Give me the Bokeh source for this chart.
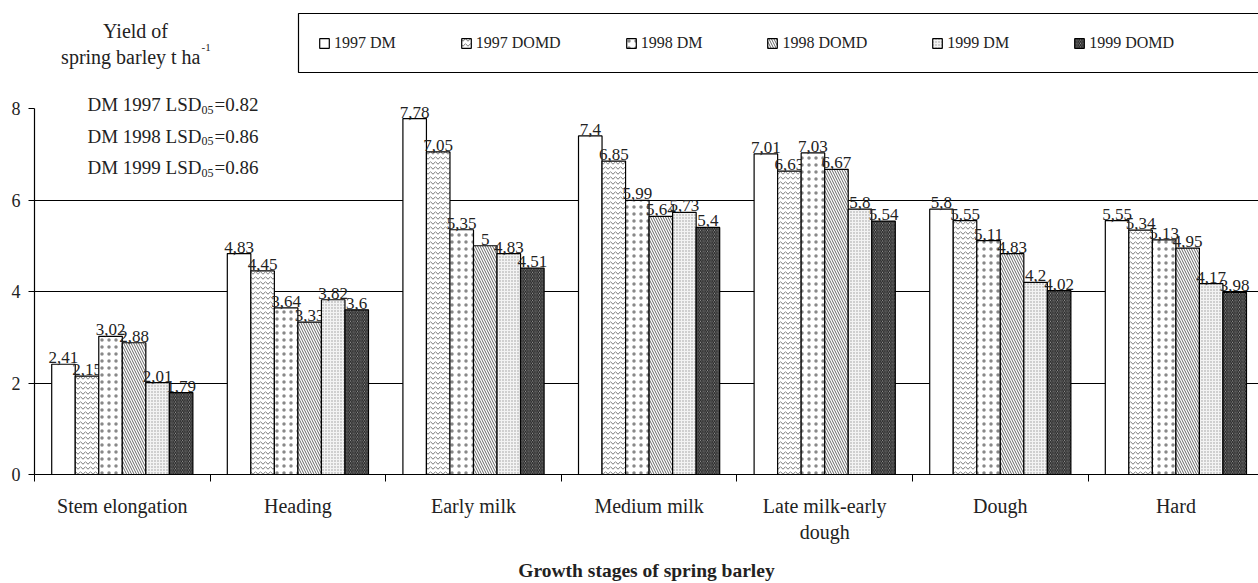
import numpy as np
from bokeh.plotting import figure
from bokeh.models import (ColumnDataSource, Range1d, FixedTicker, Legend, LegendItem, Label, BoxAnnotation)
from bokeh.embed import file_html
from bokeh.resources import INLINE

categories = ["Stem elongation", "Heading", "Early milk", "Medium milk",
              "Late milk-early\ndough", "Dough", "Hard"]
series_names = ["1997 DM", "1997 DOMD", "1998 DM", "1998 DOMD", "1999 DM", "1999 DOMD"]
dm_1997 = [2.41, 4.83, 7.78, 7.40, 7.01, 5.80, 5.55]
domd_1997 = [2.15, 4.45, 7.05, 6.85, 6.63, 5.55, 5.34]
dm_1998 = [3.02, 3.64, 5.35, 5.99, 7.03, 5.11, 5.13]
domd_1998 = [2.88, 3.33, 5.00, 5.64, 6.67, 4.83, 4.95]
dm_1999 = [2.01, 3.82, 4.83, 5.73, 5.80, 4.20, 4.17]
domd_1999 = [1.79, 3.60, 4.51, 5.40, 5.54, 4.02, 3.98]
y_ticks = [0, 2, 4, 6, 8]
lsd_lines = [("DM 1997 LSD", "05", "=0.82"), ("DM 1998 LSD", "05", "=0.86"), ("DM 1999 LSD", "05", "=0.86")]

series = [dm_1997, domd_1997, dm_1998, domd_1998, dm_1999, domd_1999]
styles = [
    dict(fill_color="white"),
    dict(fill_color="white", hatch_pattern="horizontal_wave", hatch_scale=5, hatch_weight=0.8, hatch_color="#555555"),
    dict(fill_color="white", hatch_pattern="dot", hatch_scale=7, hatch_weight=1, hatch_color="#888888"),
    dict(fill_color="white", hatch_pattern="left_diagonal_line", hatch_scale=5, hatch_weight=1, hatch_color="#666666"),
    dict(fill_color="#f3f3f3", hatch_pattern="dot", hatch_scale=3, hatch_weight=0.8, hatch_color="#999999"),
    dict(fill_color="#b0b0b0", hatch_pattern="left_diagonal_line", hatch_scale=3.5, hatch_weight=1.2, hatch_color="#222222"),
]

FONT = "serif"
TXT = "#222222"
W, H = 1258, 583
px_per_unit_y = 45.75
frame_h = 474
y_top = frame_h / px_per_unit_y
x_end = (W - 34) / 175.6

p = figure(width=W, height=H, output_backend="svg", toolbar_location=None,
           x_range=Range1d(0, x_end), y_range=Range1d(0, y_top),
           min_border_left=34, min_border_right=0, min_border_top=0, min_border_bottom=109)
p.outline_line_color = None
p.background_fill_color = "white"

bw = 0.134
n = len(series)
centers = np.arange(len(categories)) + 0.5
renderers = []
for i, (vals, st) in enumerate(zip(series, styles)):
    xs = centers + (i - (n - 1) / 2) * bw
    src = ColumnDataSource(dict(x=xs, top=vals,
                                lab=[f"{v:g}".replace(".", ",") for v in vals]))
    r = p.vbar(x="x", top="top", width=bw, bottom=0, source=src,
               line_color="black", line_width=1.2, **st)
    renderers.append(r)
    p.text(x="x", y="top", text="lab", source=src, text_align="center",
           text_baseline="bottom", y_offset=-1, text_font=FONT, text_font_size="17px",
           text_color=TXT)

# axes
xa = p.xaxis[0]
xa.ticker = FixedTicker(ticks=list(centers), minor_ticks=list(range(len(categories) + 1)))
xa.major_label_overrides = {float(c): name for c, name in zip(centers, categories)}
xa.major_tick_out = 0
xa.major_tick_in = 0
xa.minor_tick_out = 7
xa.minor_tick_in = 0
xa.major_label_standoff = 13
xa.major_label_text_font = FONT
xa.major_label_text_font_size = "20px"
xa.major_label_text_color = TXT
xa.axis_label = "Growth stages of spring barley"
xa.axis_label_text_font = FONT
xa.axis_label_text_font_style = "bold"
xa.axis_label_text_font_size = "19.5px"
xa.axis_label_text_color = TXT
xa.axis_label_standoff = 14
xa.axis_line_width = 1.2

ya = p.yaxis[0]
ya.ticker = FixedTicker(ticks=y_ticks)
ya.bounds = (0, 8)
ya.major_tick_out = 6
ya.major_tick_in = 0
ya.minor_tick_out = 0
ya.minor_tick_in = 0
ya.major_label_standoff = 8
ya.major_label_text_font = FONT
ya.major_label_text_font_size = "18px"
ya.major_label_text_color = TXT
ya.axis_line_width = 1.2

p.xgrid.visible = False
p.ygrid.ticker = FixedTicker(ticks=[2, 4, 6])
p.ygrid.grid_line_color = "black"
p.ygrid.grid_line_width = 1.2

# y title and LSD notes
def px2x(px):
    return (px - 34) / 175.6

def py2y(py):
    return (frame_h - py) / px_per_unit_y

def lab(x, y, text, align, size):
    p.add_layout(Label(x=px2x(x), y=py2y(y), text=text, text_align=align,
                       text_baseline="middle", text_font=FONT, text_font_size=size, text_color=TXT))

lab(135, 30, "Yield of", "center", "20px")
lab(200, 56, "spring barley t ha", "right", "20px")
lab(201, 47, "-1", "left", "11px")
for k, (a, sub, b) in enumerate(lsd_lines):
    yc = 104 + k * 31.5
    lab(201, yc, a, "right", "19px")
    lab(201, yc + 5, sub, "left", "12px")
    lab(214, yc, b, "left", "19px")

# legend frame (extends past the right edge, as in the original)
p.add_layout(BoxAnnotation(left=px2x(298), right=x_end + 1, top=py2y(13), bottom=py2y(72),
                           fill_color="white", fill_alpha=1, line_color="black", line_width=1.2,
                           line_alpha=1))

legend = Legend(items=[LegendItem(label=nm, renderers=[r]) for nm, r in zip(series_names, renderers)],
                orientation="horizontal", location=(264, 402),
                label_text_font=FONT, label_text_font_size="16px", label_text_color=TXT,
                glyph_width=12, glyph_height=12, label_standoff=4, spacing=64, padding=20,
                border_line_color="black", border_line_alpha=0, background_fill_alpha=0,
                label_height=19)
p.add_layout(legend)

open("out.html", "w").write(file_html(p, INLINE))
